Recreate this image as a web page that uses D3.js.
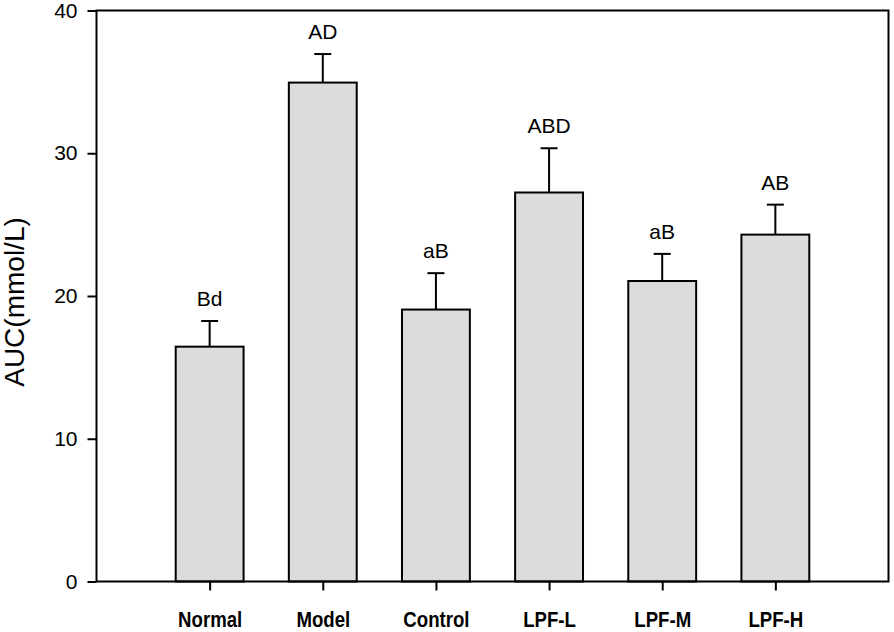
<!DOCTYPE html>
<html>
<head>
<meta charset="utf-8">
<script src="https://cdn.jsdelivr.net/npm/d3@7/dist/d3.min.js"></script>
<style>
  html, body { margin: 0; padding: 0; background: #ffffff; }
  svg { display: block; }
</style>
</head>
<body>
<svg id="chart" width="894" height="632"></svg>
<script>
const categories = ["Normal", "Model", "Control", "LPF-L", "LPF-M", "LPF-H"];
const values = [16.45, 34.95, 19.05, 27.25, 21.05, 24.3];
const errors = [1.8, 2.0, 2.55, 3.1, 1.9, 2.1];
const letters = ["Bd", "AD", "aB", "ABD", "aB", "AB"];
const yTicks = [0, 10, 20, 30, 40];

(function () {
const svg = d3.select("#chart");
const mLeft = 96.5, mRight = 888.5, mTop = 10.5, mBottom = 581.5;

const x = d3.scaleLinear().domain([0, categories.length + 1]).range([mLeft, mRight]);
const y = d3.scaleLinear().domain([0, 40]).range([mBottom, mTop]);
const barW = x(0.6) - x(0);

const data = categories.map((c, i) => ({ c, i, v: values[i], e: errors[i], l: letters[i] }));

// bars
svg.append("g").selectAll("rect").data(data).join("rect")
  .attr("x", d => x(d.i + 1) - barW / 2)
  .attr("y", d => y(d.v))
  .attr("width", barW)
  .attr("height", d => y(0) - y(d.v))
  .attr("fill", "#dcdcdc")
  .attr("stroke", "#000")
  .attr("stroke-width", 2);

// error bars
const eb = svg.append("g").attr("stroke", "#000").attr("stroke-width", 2);
eb.selectAll("line.v").data(data).join("line").attr("class", "v")
  .attr("x1", d => x(d.i + 1)).attr("x2", d => x(d.i + 1))
  .attr("y1", d => y(d.v)).attr("y2", d => y(d.v + d.e));
eb.selectAll("line.c").data(data).join("line").attr("class", "c")
  .attr("x1", d => x(d.i + 1) - 8.5).attr("x2", d => x(d.i + 1) + 8.5)
  .attr("y1", d => y(d.v + d.e)).attr("y2", d => y(d.v + d.e));

// letters
svg.append("g").selectAll("text").data(data).join("text")
  .attr("x", d => x(d.i + 1))
  .attr("y", d => y(d.v + d.e) - 15)
  .attr("text-anchor", "middle")
  .attr("font-family", "Arial, 'Liberation Sans', sans-serif")
  .attr("font-size", 21)
  .attr("fill", "#000")
  .text(d => d.l);

// y axis
const yAxis = d3.axisLeft(y).tickValues(yTicks).tickSize(9).tickPadding(10).tickFormat(d3.format("d"));
const gy = svg.append("g").attr("transform", `translate(${mLeft},0)`).call(yAxis);
gy.select(".domain").remove();
gy.selectAll(".tick line").attr("stroke", "#000").attr("stroke-width", 2);
gy.selectAll(".tick text")
  .attr("font-family", "Arial, 'Liberation Sans', sans-serif")
  .attr("font-size", 21)
  .attr("fill", "#000");

// x axis
const xAxis = d3.axisBottom(x).tickValues(categories.map((c, i) => i + 1))
  .tickSize(9).tickPadding(20).tickFormat(d => categories[d - 1]);
const gx = svg.append("g").attr("transform", `translate(0,${mBottom})`).call(xAxis);
gx.select(".domain").remove();
gx.selectAll(".tick line").attr("stroke", "#000").attr("stroke-width", 2);
gx.selectAll(".tick text")
  .attr("font-family", "Arial, 'Liberation Sans', sans-serif")
  .attr("font-weight", "bold")
  .attr("font-size", 23)
  .attr("transform", "scale(0.81,1)")
  .attr("fill", "#000");

// frame
svg.append("rect")
  .attr("x", mLeft).attr("y", mTop)
  .attr("width", mRight - mLeft).attr("height", mBottom - mTop)
  .attr("fill", "none").attr("stroke", "#000").attr("stroke-width", 2);

// y label
svg.append("text")
  .attr("transform", `translate(24,${(mTop + mBottom) / 2 + 6}) rotate(-90)`)
  .attr("text-anchor", "middle")
  .attr("font-family", "Arial, 'Liberation Sans', sans-serif")
  .attr("font-size", 28)
  .attr("fill", "#000")
  .text("AUC(mmol/L)");
})();
</script>
</body>
</html>
